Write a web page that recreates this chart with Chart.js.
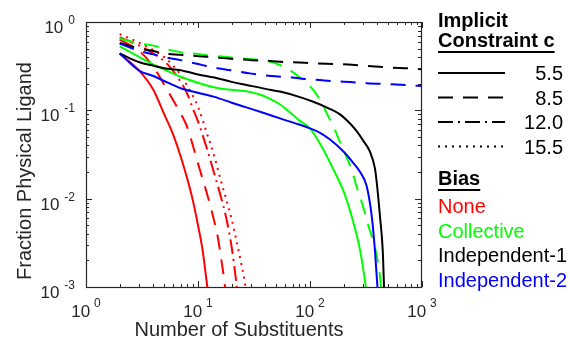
<!DOCTYPE html>
<html>
<head>
<meta charset="utf-8">
<script src="https://cdn.jsdelivr.net/npm/chart.js@4.4.1/dist/chart.umd.min.js"></script>
<style>
    html, body { margin: 0; padding: 0; background: #fff; }
    #wrap { width: 570px; height: 344px; }
</style>
</head>
<body>
<div id="wrap"><canvas id="chart" width="570" height="344"></canvas></div>
<script>
(function() {
    "use strict";

    // Bias: None (red)
    const noneC55X = [2, 3, 4, 5, 6, 7, 8, 9, 10, 11, 12, 13];
    const noneC55Y = [0.44, 0.28, 0.17, 0.09, 0.053, 0.03, 0.017, 0.0095, 0.005, 0.0026, 0.0011, 0.0005];
    const noneC85X = [2, 3, 4, 5, 6, 7, 8, 9, 10, 12, 14, 15, 16, 17, 18];
    const noneC85Y = [0.63, 0.47, 0.31, 0.195, 0.13, 0.092, 0.065, 0.04, 0.025, 0.0115, 0.0055, 0.0037, 0.0022, 0.0013, 0.0007];
    const noneC120X = [2, 3, 4, 5, 6, 7, 8, 9, 10, 12, 14, 16, 18, 20, 22, 23];
    const noneC120Y = [0.67, 0.54, 0.44, 0.36, 0.28, 0.21, 0.155, 0.105, 0.075, 0.037, 0.019, 0.0105, 0.0058, 0.0028, 0.0011, 0.0006];
    const noneC155X = [2, 3, 4, 5, 6, 7, 8, 9, 10, 12, 14, 16, 18, 20, 22, 24, 26, 28];
    const noneC155Y = [0.73, 0.58, 0.48, 0.40, 0.32, 0.25, 0.19, 0.145, 0.11, 0.055, 0.03, 0.016, 0.0095, 0.0058, 0.0034, 0.002, 0.0012, 0.0006];

    // Bias: Collective (green)
    const collC55X = [2, 3, 4, 5, 7, 10, 13, 16, 20, 27, 35, 44, 55, 66, 80, 100, 130, 160, 200, 240, 280, 315, 330];
    const collC55Y = [0.53, 0.40, 0.33, 0.29, 0.24, 0.205, 0.186, 0.176, 0.171, 0.164, 0.152, 0.135, 0.115, 0.095, 0.077, 0.0625, 0.037, 0.022, 0.012, 0.0058, 0.0026, 0.001, 0.0006];
    const collC85X = [2, 3, 4, 5, 7, 9, 12, 17, 22, 30, 40, 54, 69, 90, 107, 123, 146, 167, 185, 205, 236, 261, 280, 310, 331, 367, 388, 422, 440];
    const collC85Y = [0.65, 0.57, 0.54, 0.50, 0.455, 0.44, 0.42, 0.405, 0.39, 0.38, 0.365, 0.326, 0.274, 0.211, 0.17, 0.131, 0.085, 0.06, 0.044, 0.0326, 0.021, 0.0137, 0.0105, 0.0068, 0.005, 0.0033, 0.0025, 0.0013, 0.0007];

    // Bias: Independent-1 (black)
    const ind1C55X = [2, 3, 4, 5, 7, 10, 14, 20, 27, 40, 54, 80, 107, 150, 185, 230, 261, 300, 343, 380, 395, 422, 446, 458, 465];
    const ind1C55Y = [0.44, 0.35, 0.32, 0.30, 0.285, 0.255, 0.235, 0.21, 0.194, 0.175, 0.163, 0.142, 0.125, 0.104, 0.09, 0.07, 0.058, 0.045, 0.034, 0.022, 0.015, 0.0062, 0.0026, 0.001, 0.0005];
    const ind1C85X = [2, 3, 4, 5, 7, 9, 12, 17, 22, 30, 40, 54, 80, 100, 141, 197, 251, 354, 520, 782, 1000];
    const ind1C85Y = [0.58, 0.50, 0.47, 0.44, 0.425, 0.415, 0.405, 0.39, 0.38, 0.37, 0.365, 0.355, 0.348, 0.343, 0.337, 0.332, 0.326, 0.315, 0.305, 0.298, 0.291];

    // Bias: Independent-2 (blue)
    const ind2C55X = [2, 3, 4, 5, 7, 10, 14, 20, 27, 40, 54, 80, 100, 125, 150, 200, 240, 280, 320, 356, 380, 400, 410];
    const ind2C55Y = [0.44, 0.28, 0.245, 0.215, 0.178, 0.158, 0.142, 0.122, 0.108, 0.092, 0.081, 0.069, 0.0625, 0.055, 0.047, 0.034, 0.026, 0.02, 0.014, 0.0063, 0.0026, 0.001, 0.0006];
    const ind2C85X = [2, 3, 4, 5, 7, 8.5, 11, 16, 21, 29, 45, 69, 90, 123, 173, 228, 321, 550, 755, 1000];
    const ind2C85Y = [0.57, 0.47, 0.43, 0.40, 0.37, 0.35, 0.325, 0.295, 0.281, 0.262, 0.245, 0.236, 0.227, 0.22, 0.213, 0.209, 0.203, 0.197, 0.193, 0.188];

    // axes and legend text
    const xTickValues = [1, 10, 100, 1000];
    const xTickExps = ['0', '1', '2', '3'];
    const yTickValues = [1, 0.1, 0.01, 0.001];
    const yTickExps = ['0', '-1', '-2', '-3'];
    const xTitle = 'Number of Substituents';
    const yTitle = 'Fraction Physical Ligand';
    const constraintTitle = ['Implicit', 'Constraint c'];
    const constraintLabels = ['5.5', '8.5', '12.0', '15.5'];
    const biasTitle = 'Bias';
    const biasLabels = ['None', 'Collective', 'Independent-1', 'Independent-2'];

    const biasColors = ['#ff0000', '#00ff00', '#000000', '#0000ff'];
    const dashStyles = [[], [15, 10], [15, 5, 2, 5], [2, 5]];
    const axisColor = '#262626';
    const fontFamily = '"Liberation Sans", Arial, Helvetica, sans-serif';

    function series(label, xs, ys, color, dash, order) {
        return {
            label: label,
            data: xs.map((x, i) => ({ x: x, y: ys[i] })),
            borderColor: color,
            backgroundColor: color,
            borderWidth: 2,
            borderDash: dash,
            pointRadius: 0,
            fill: false,
            cubicInterpolationMode: 'monotone',
            clip: 0,
            order: order
        };
    }

    const datasets = [
        series('None 5.5', noneC55X, noneC55Y, biasColors[0], dashStyles[0], 4),
        series('None 8.5', noneC85X, noneC85Y, biasColors[0], dashStyles[1], 4),
        series('None 12.0', noneC120X, noneC120Y, biasColors[0], dashStyles[2], 4),
        series('None 15.5', noneC155X, noneC155Y, biasColors[0], dashStyles[3], 4),
        series('Collective 5.5', collC55X, collC55Y, biasColors[1], dashStyles[0], 3),
        series('Collective 8.5', collC85X, collC85Y, biasColors[1], dashStyles[1], 3),
        series('Independent-1 5.5', ind1C55X, ind1C55Y, biasColors[2], dashStyles[0], 2),
        series('Independent-1 8.5', ind1C85X, ind1C85Y, biasColors[2], dashStyles[1], 2),
        series('Independent-2 5.5', ind2C55X, ind2C55Y, biasColors[3], dashStyles[0], 1),
        series('Independent-2 8.5', ind2C85X, ind2C85Y, biasColors[3], dashStyles[1], 1)
    ];

    // MATLAB-like box, inward ticks, 10^n labels and the two-part legend
    const decor = {
        id: 'decor',
        afterDraw(chart) {
            const ctx = chart.ctx;
            const a = chart.chartArea;
            const sx = chart.scales.x;
            const sy = chart.scales.y;
            ctx.save();

            ctx.strokeStyle = axisColor;
            ctx.lineWidth = 1.2;
            ctx.strokeRect(a.left + 0.5, a.top + 0.5, a.right - a.left - 1, a.bottom - a.top);

            ctx.lineWidth = 1;
            ctx.beginPath();
            for (let k = 0; k < 3; k++) {
                for (let m = 1; m <= 10; m++) {
                    const len = m === 1 || m === 10 ? 6 : 3;
                    const px = Math.round(sx.getPixelForValue(m * Math.pow(10, k))) + 0.5;
                    ctx.moveTo(px, a.bottom); ctx.lineTo(px, a.bottom - len);
                    ctx.moveTo(px, a.top); ctx.lineTo(px, a.top + len);
                    const py = Math.round(sy.getPixelForValue(m * Math.pow(10, k - 3))) + 0.5;
                    ctx.moveTo(a.left, py); ctx.lineTo(a.left + len, py);
                    ctx.moveTo(a.right - 1, py); ctx.lineTo(a.right - 1 - len, py);
                }
            }
            ctx.stroke();

            ctx.fillStyle = axisColor;
            ctx.textBaseline = 'alphabetic';
            const baseFont = '17px ' + fontFamily;
            const expFont = '12px ' + fontFamily;

            xTickValues.forEach((v, i) => {
                const px = sx.getPixelForValue(v);
                ctx.font = baseFont;
                const wb = ctx.measureText('10').width;
                ctx.font = expFont;
                const we = ctx.measureText(xTickExps[i]).width;
                const left = px - (wb + 4 + we) / 2;
                ctx.font = baseFont;
                ctx.textAlign = 'left';
                ctx.fillText('10', left, a.bottom + 30);
                ctx.font = expFont;
                ctx.fillText(xTickExps[i], left + wb + 4, a.bottom + 20);
            });

            yTickValues.forEach((v, i) => {
                const py = sy.getPixelForValue(v);
                ctx.font = expFont;
                ctx.textAlign = 'right';
                const expRight = a.left - 11;
                ctx.fillText(yTickExps[i], expRight, py + 2);
                const we = ctx.measureText(yTickExps[i]).width;
                ctx.font = baseFont;
                ctx.fillText('10', expRight - we - 5, py + 11);
            });

            ctx.font = '20px ' + fontFamily;
            ctx.textAlign = 'center';
            ctx.fillText(xTitle, 239, 336);
            ctx.save();
            ctx.translate(31, 171);
            ctx.rotate(-Math.PI / 2);
            ctx.fillText(yTitle, 0, 0);
            ctx.restore();

            // legend: constraint block
            const lx = 438;
            ctx.fillStyle = '#000';
            ctx.strokeStyle = '#000';
            ctx.textAlign = 'left';
            ctx.font = 'bold 20px ' + fontFamily;
            ctx.fillText(constraintTitle[0], lx, 27);
            ctx.fillText(constraintTitle[1], lx, 47);
            let w = ctx.measureText(constraintTitle[1]).width;
            ctx.fillRect(lx, 51, w, 2);

            ctx.font = '20px ' + fontFamily;
            constraintLabels.forEach((lab, i) => {
                const y = 73 + i * 24.5;
                ctx.setLineDash(dashStyles[i]);
                ctx.lineWidth = 2;
                ctx.beginPath();
                ctx.moveTo(lx, y);
                ctx.lineTo(505, y);
                ctx.stroke();
                ctx.setLineDash([]);
                ctx.textAlign = 'right';
                ctx.fillText(lab, 563, y + 7);
            });

            // legend: bias block
            ctx.textAlign = 'left';
            ctx.font = 'bold 20px ' + fontFamily;
            ctx.fillText(biasTitle, lx, 185);
            w = ctx.measureText(biasTitle).width;
            ctx.fillRect(lx, 189, w, 2);
            ctx.font = '20px ' + fontFamily;
            biasLabels.forEach((lab, i) => {
                ctx.fillStyle = biasColors[i];
                ctx.fillText(lab, lx, 213 + i * 24.5);
            });

            ctx.restore();
        }
    };

    new Chart(document.getElementById('chart'), {
        type: 'line',
        data: { datasets: datasets },
        options: {
            responsive: false,
            animation: false,
            devicePixelRatio: 1,
            layout: { padding: { left: 86, right: 148, top: 22, bottom: 57 } },
            plugins: {
                legend: { display: false },
                tooltip: { enabled: false },
                title: { display: false }
            },
            scales: {
                x: { type: 'logarithmic', min: 1, max: 1000, display: false },
                y: { type: 'logarithmic', min: 0.001, max: 1, display: false }
            }
        },
        plugins: [decor]
    });
})();
</script>
</body>
</html>
